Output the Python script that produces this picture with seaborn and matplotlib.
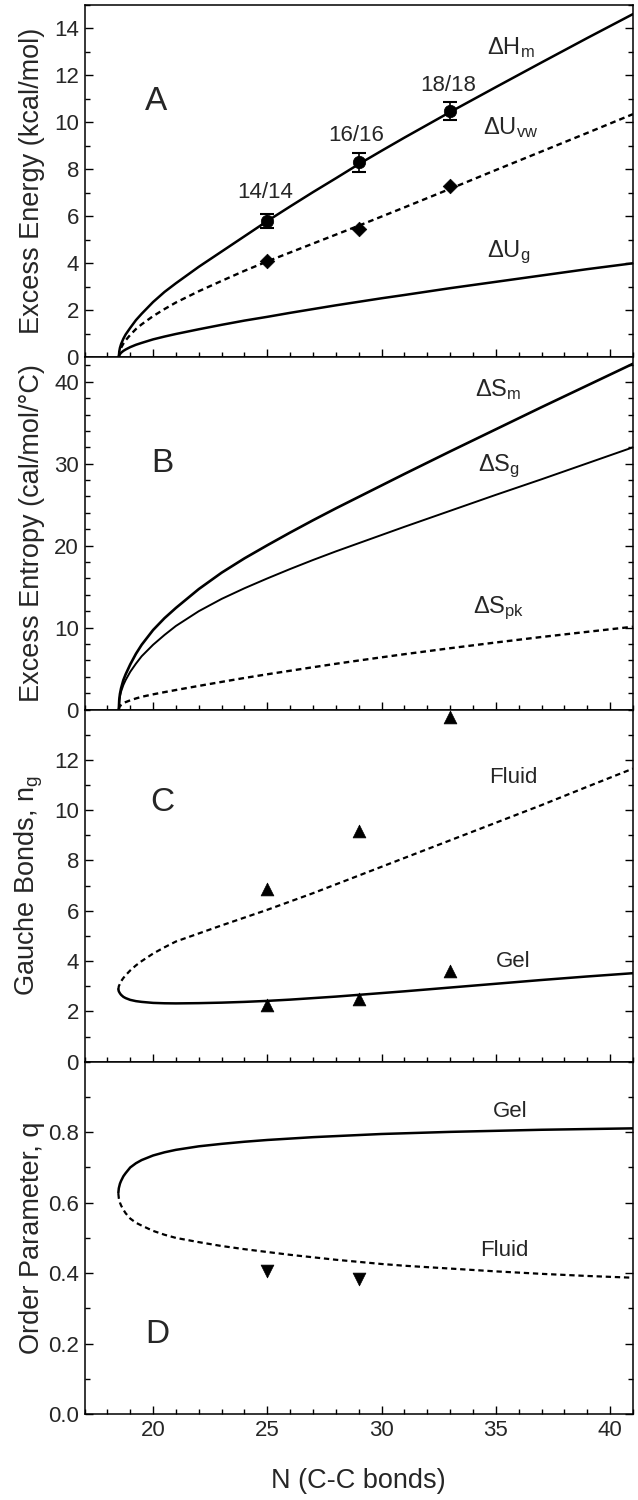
import matplotlib
matplotlib.use("Agg")
import matplotlib.pyplot as plt
from matplotlib.ticker import MultipleLocator, FormatStrFormatter
import pandas as pd
import seaborn as sns

sns.set_theme(style="ticks")
plt.rcParams["font.family"] = ["Liberation Sans", "DejaVu Sans"]
plt.rcParams["mathtext.fontset"] = "custom"
plt.rcParams["mathtext.rm"] = "Liberation Sans"
plt.rcParams["mathtext.it"] = "Liberation Sans"

# ---- chain length grid (number of C-C bonds) ----
chain_n = [18.5, 18.52, 18.55, 18.6, 18.7, 18.8, 19.0, 19.25, 19.5, 20, 20.5, 21, 22, 23,
           24, 25, 26, 27, 28, 29, 30, 31, 33, 35, 37, 39, 41]

# Panel A: excess energies (kcal/mol)
dH_m = [0.0, 0.25, 0.40, 0.56, 0.79, 0.97, 1.25, 1.58, 1.85, 2.35, 2.78, 3.15, 3.85, 4.5,
        5.15, 5.8, 6.42, 7.03, 7.62, 8.22, 8.79, 9.35, 10.44, 11.5, 12.55, 13.59, 14.61]
dU_vw = [0.0, 0.17, 0.27, 0.4, 0.58, 0.72, 0.95, 1.2, 1.4, 1.75, 2.05, 2.33, 2.81, 3.25,
         3.68, 4.08, 4.46, 4.84, 5.22, 5.6, 5.99, 6.38, 7.17, 7.97, 8.76, 9.55, 10.35]
dU_g = [0.0, 0.08, 0.13, 0.19, 0.27, 0.33, 0.43, 0.53, 0.61, 0.76, 0.88, 0.99, 1.19, 1.38,
        1.56, 1.72, 1.89, 2.05, 2.21, 2.36, 2.51, 2.65, 2.94, 3.21, 3.48, 3.75, 4.0]

lipid_n = [25, 29, 33]
lipid_names = ["14/14", "16/16", "18/18"]
lipid_label_y = [7.0, 9.45, 11.57]
dH_exp = [5.8, 8.3, 10.48]
dH_err = [0.3, 0.4, 0.4]
dUvw_exp = [4.1, 5.48, 7.27]

# Panel B: excess entropies (cal/mol/°C)
dS_m = [0.0, 1.2, 1.9, 2.6, 3.6, 4.3, 5.5, 6.8, 7.9, 9.7, 11.15, 12.4, 14.7, 16.7,
        18.45, 20.05, 21.6, 23.1, 24.55, 25.95, 27.35, 28.75, 31.5, 34.2, 36.9, 39.55, 42.2]
dS_g = [0.0, 1.0, 1.6, 2.2, 3.0, 3.6, 4.6, 5.6, 6.5, 7.9, 9.1, 10.2, 12.0, 13.5,
        14.8, 16.0, 17.15, 18.25, 19.3, 20.3, 21.3, 22.3, 24.25, 26.2, 28.1, 30.05, 32.0]
dS_pk = [0.0, 0.25, 0.4, 0.55, 0.75, 0.9, 1.12, 1.35, 1.55, 1.85, 2.12, 2.38, 2.88, 3.37,
         3.85, 4.3, 4.73, 5.16, 5.58, 5.98, 6.37, 6.75, 7.48, 8.18, 8.85, 9.48, 10.1]

# Panels C and D: gel and fluid branches meeting at the critical chain length
branch_n = [18.48, 18.5, 18.55, 18.6, 18.7, 18.8, 19.0, 19.25, 19.5, 20, 20.5, 21, 22, 23,
            24, 25, 26, 27, 28, 29, 30, 31, 33, 35, 37, 39, 41]
gel_ng = [2.88, 2.80, 2.72, 2.66, 2.58, 2.53, 2.46, 2.41, 2.38, 2.34, 2.325, 2.32, 2.33, 2.35,
          2.38, 2.42, 2.47, 2.53, 2.59, 2.66, 2.73, 2.8, 2.95, 3.1, 3.25, 3.39, 3.52]
fluid_ng = [2.88, 3.0, 3.1, 3.2, 3.33, 3.44, 3.63, 3.83, 4.0, 4.3, 4.55, 4.78, 5.1, 5.42,
            5.73, 6.04, 6.37, 6.7, 7.05, 7.4, 7.75, 8.1, 8.8, 9.5, 10.2, 10.93, 11.65]
gel_q = [0.628, 0.641, 0.654, 0.662, 0.675, 0.684, 0.70, 0.712, 0.721, 0.734, 0.743, 0.75, 0.76, 0.767,
         0.773, 0.778, 0.782, 0.786, 0.789, 0.792, 0.795, 0.797, 0.801, 0.804, 0.807, 0.809, 0.811]
fluid_q = [0.626, 0.613, 0.600, 0.592, 0.580, 0.570, 0.555, 0.543, 0.535, 0.52, 0.509, 0.50, 0.488, 0.477,
           0.468, 0.46, 0.452, 0.445, 0.438, 0.432, 0.426, 0.421, 0.413, 0.405, 0.398, 0.392, 0.387]

sim_fluid_ng = [6.88, 9.17, 13.7]
sim_gel_ng = [2.24, 2.5, 3.6]
sim_n_q = [25, 29]
sim_fluid_q = [0.405, 0.383]

DASH = (0, (2.4, 1.7))
TICK_FS = 16
LABEL_FS = 19.5
LETTER_FS = 24
NOTE_FS = 16


def curve(ax, x, y, ls="-", lw=1.8):
    df = pd.DataFrame({"x": x, "y": y})
    sns.lineplot(data=df, x="x", y="y", ax=ax, color="black", lw=lw,
                 linestyle=ls, sort=False, estimator=None)


def points(ax, x, y, marker, size):
    sns.scatterplot(x=x, y=y, ax=ax, marker=marker, s=size, color="black",
                    edgecolor="black", linewidth=0.5, zorder=5, clip_on=False)


fig, axes = plt.subplots(4, 1, figsize=(6.38, 15.0), dpi=100, sharex=True)
fig.subplots_adjust(left=0.1325, right=0.992, top=0.9967, bottom=0.0573, hspace=0)
axA, axB, axC, axD = axes

# ---- A: excess energies ----
curve(axA, chain_n, dH_m)
curve(axA, chain_n, dU_vw, ls=DASH, lw=1.7)
curve(axA, chain_n, dU_g)
axA.errorbar(lipid_n, dH_exp, yerr=dH_err, fmt="none", ecolor="black",
             elinewidth=1.2, capsize=5, capthick=1.5, zorder=4)
points(axA, lipid_n, dH_exp, "o", 80)
points(axA, lipid_n, dUvw_exp, "D", 55)
for n, yy, name in zip(lipid_n, lipid_label_y, lipid_names):
    axA.text(n - 0.1, yy, name, ha="center", va="center", fontsize=NOTE_FS)
axA.text(34.6, 13.2, r"$\Delta$H$_\mathregular{m}$", fontsize=NOTE_FS + 1, va="center")
axA.text(34.45, 9.8, r"$\Delta$U$_\mathregular{vw}$", fontsize=NOTE_FS + 1, va="center")
axA.text(34.6, 4.45, r"$\Delta$U$_\mathregular{g}$", fontsize=NOTE_FS + 1, va="center")
axA.text(20.15, 10.9, "A", fontsize=LETTER_FS, ha="center", va="center")
axA.set_ylim(0, 15)
axA.yaxis.set_major_locator(MultipleLocator(2))
axA.yaxis.set_minor_locator(MultipleLocator(1))
axA.set_ylabel("Excess Energy (kcal/mol)", fontsize=LABEL_FS)

# ---- B: excess entropies ----
curve(axB, chain_n, dS_m, lw=1.9)
curve(axB, chain_n, dS_g, lw=1.4)
curve(axB, chain_n, dS_pk, ls=DASH, lw=1.7)
axB.text(34.1, 39.0, r"$\Delta$S$_\mathregular{m}$", fontsize=NOTE_FS + 1, va="center")
axB.text(34.2, 29.7, r"$\Delta$S$_\mathregular{g}$", fontsize=NOTE_FS + 1, va="center")
axB.text(34.0, 12.4, r"$\Delta$S$_\mathregular{pk}$", fontsize=NOTE_FS + 1, va="center")
axB.text(20.4, 30.0, "B", fontsize=LETTER_FS, ha="center", va="center")
axB.set_ylim(0, 43)
axB.yaxis.set_major_locator(MultipleLocator(10))
axB.yaxis.set_minor_locator(MultipleLocator(2))
axB.set_ylabel("Excess Entropy (cal/mol/°C)", fontsize=LABEL_FS)

# ---- C: gauche bonds ----
curve(axC, branch_n, gel_ng)
curve(axC, branch_n, fluid_ng, ls=DASH, lw=1.6)
points(axC, lipid_n, sim_fluid_ng, "^", 85)
points(axC, lipid_n, sim_gel_ng, "^", 85)
axC.text(34.7, 11.3, "Fluid", fontsize=NOTE_FS, va="center")
axC.text(35.0, 4.0, "Gel", fontsize=NOTE_FS, va="center")
axC.text(20.4, 10.3, "C", fontsize=LETTER_FS, ha="center", va="center")
axC.set_ylim(0, 14)
axC.set_yticks(range(0, 13, 2))
axC.yaxis.set_minor_locator(MultipleLocator(1))
axC.set_ylabel(r"Gauche Bonds, n$_\mathregular{g}$", fontsize=LABEL_FS)

# ---- D: order parameter ----
curve(axD, branch_n, gel_q)
curve(axD, branch_n, fluid_q, ls=DASH, lw=1.6)
points(axD, sim_n_q, sim_fluid_q, "v", 85)
axD.text(34.86, 0.86, "Gel", fontsize=NOTE_FS, va="center")
axD.text(34.3, 0.464, "Fluid", fontsize=NOTE_FS, va="center")
axD.text(20.2, 0.225, "D", fontsize=LETTER_FS, ha="center", va="center")
axD.set_ylim(0, 1.0)
axD.set_yticks([0.0, 0.2, 0.4, 0.6, 0.8])
axD.yaxis.set_minor_locator(MultipleLocator(0.1))
axD.yaxis.set_major_formatter(FormatStrFormatter("%.1f"))
axD.set_ylabel("Order Parameter, q", fontsize=LABEL_FS)

axD.set_xlim(17, 41)
axD.xaxis.set_major_locator(MultipleLocator(5))
axD.xaxis.set_minor_locator(MultipleLocator(1))
axD.set_xlabel("N (C-C bonds)", fontsize=LABEL_FS, labelpad=20)

for ax in axes:
    for sp in ax.spines.values():
        sp.set_color("black")
        sp.set_linewidth(1.1)
        sp.set_visible(True)
    ax.tick_params(which="both", direction="in", right=True, top=False,
                   color="black", width=1.0, labelsize=TICK_FS, pad=4)
    ax.tick_params(which="major", length=6)
    ax.tick_params(which="minor", length=3.5)
    ax.yaxis.set_label_coords(-0.072, 0.5)
    ax.grid(False)

fig.savefig("out.png", dpi=100)
